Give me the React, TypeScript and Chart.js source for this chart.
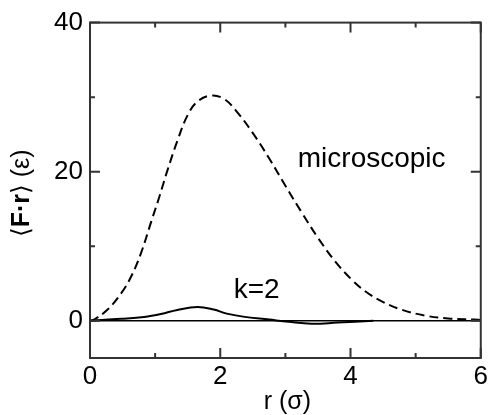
import React, { useEffect, useRef } from "react";
import { Chart, registerables } from "chart.js";

Chart.register(...registerables);

// ---- data ----
const microR = [0, 0.07, 0.27, 0.48, 0.63, 0.78, 0.94, 1.06, 1.19, 1.34, 1.5, 1.65, 1.85, 2.05, 2.24, 2.49, 2.75, 3.0, 3.26, 3.51, 3.77, 4.02, 4.22, 4.48, 4.78, 5.14, 5.5, 5.9, 6.0];
const microV = [0, 0.2, 1.5, 3.7, 5.9, 9.0, 13.3, 16.5, 20.2, 24.1, 27.6, 29.4, 30.2, 29.8, 28.2, 25.3, 21.8, 18.1, 14.4, 11.0, 7.9, 5.5, 4.0, 2.6, 1.5, 0.7, 0.3, 0.15, 0.1];
const k2R = [0, 0.48, 0.83, 1.09, 1.34, 1.65, 1.9, 2.1, 2.35, 2.75, 3.05, 3.4, 3.8, 4.35];
const k2V = [0, 0.25, 0.5, 0.9, 1.45, 1.85, 1.5, 0.95, 0.55, 0.15, -0.15, -0.4, -0.25, 0];

const xMin = 0;
const xMax = 6;
const yMin = -5;
const yMax = 40;
const xMajorTicks = [0, 2, 4, 6];
const xMinorTicks = [1, 3, 5];
const yMajorTicks = [0, 20, 40];
const yMinorTicks = [10, 30];

const microLabel = "microscopic";
const microLabelPos = { x: 3.19, y: 21.7 };
const k2Label = "k=2";
const k2LabelPos = { x: 2.56, y: 4.15 };
const xTitle = "r (σ)";
const yTitleParts = [
  { text: "\u27E8", bold: false },
  { text: "F\u00B7r", bold: true },
  { text: "\u27E9 (\u03B5)", bold: false },
];

const FONT = "'Liberation Sans', Arial, Helvetica, 'DejaVu Sans', sans-serif";

const decorPlugin = {
  id: "decor",
  beforeDatasetsDraw(chart: any) {
    const { ctx, chartArea, scales } = chart;
    const y0 = scales.y.getPixelForValue(0);
    ctx.save();
    ctx.strokeStyle = "#000";
    ctx.lineWidth = 1.5;
    ctx.beginPath();
    ctx.moveTo(chartArea.left, y0);
    ctx.lineTo(chartArea.right, y0);
    ctx.stroke();
    ctx.restore();
  },
  afterDraw(chart: any) {
    const { ctx, chartArea, scales } = chart;
    const { left, right, top, bottom } = chartArea;
    ctx.save();
    // frame
    ctx.strokeStyle = "#333";
    ctx.lineWidth = 2;
    ctx.strokeRect(left, top, right - left, bottom - top);
    // ticks
    ctx.beginPath();
    const major = 10;
    const minor = 5;
    xMajorTicks.concat(xMinorTicks).forEach((v) => {
      const len = xMajorTicks.includes(v) ? major : minor;
      const px = scales.x.getPixelForValue(v);
      ctx.moveTo(px, bottom);
      ctx.lineTo(px, bottom - len);
      ctx.moveTo(px, top);
      ctx.lineTo(px, top + len);
    });
    yMajorTicks.concat(yMinorTicks).forEach((v) => {
      const len = yMajorTicks.includes(v) ? major : minor;
      const py = scales.y.getPixelForValue(v);
      ctx.moveTo(left, py);
      ctx.lineTo(left + len, py);
      ctx.moveTo(right, py);
      ctx.lineTo(right - len, py);
    });
    ctx.stroke();

    // annotations
    ctx.fillStyle = "#000";
    ctx.textBaseline = "middle";
    ctx.textAlign = "left";
    ctx.font = `28px ${FONT}`;
    ctx.fillText(microLabel, scales.x.getPixelForValue(microLabelPos.x), scales.y.getPixelForValue(microLabelPos.y));
    ctx.textAlign = "center";
    ctx.fillText(k2Label, scales.x.getPixelForValue(k2LabelPos.x), scales.y.getPixelForValue(k2LabelPos.y));

    // x title
    ctx.font = `25px ${FONT}`;
    ctx.textAlign = "center";
    ctx.fillText(xTitle, (left + right) / 2 + 2, 402);

    // y title (rotated, mixed weight)
    ctx.translate(22, (top + bottom) / 2 + 3);
    ctx.rotate(-Math.PI / 2);
    ctx.textAlign = "left";
    const fonts = yTitleParts.map((p) => `${p.bold ? "bold " : ""}25px ${FONT}`);
    let total = 0;
    const widths = yTitleParts.map((p, i) => {
      ctx.font = fonts[i];
      const w = ctx.measureText(p.text).width;
      total += w;
      return w;
    });
    let xx = -total / 2;
    yTitleParts.forEach((p, i) => {
      ctx.font = fonts[i];
      ctx.fillText(p.text, xx, 0);
      xx += widths[i];
    });
    ctx.restore();
  },
};

export default function App() {
  const ref = useRef<HTMLCanvasElement | null>(null);
  useEffect(() => {
    if (!ref.current) return;
    const chart = new Chart(ref.current, {
      type: "line",
      data: {
        datasets: [
          {
            label: "microscopic",
            data: microR.map((r, i) => ({ x: r, y: microV[i] })),
            borderColor: "#000",
            borderWidth: 2,
            borderDash: [9, 5],
            pointRadius: 0,
            fill: false,
            tension: 0.4,
          },
          {
            label: "k=2",
            data: k2R.map((r, i) => ({ x: r, y: k2V[i] })),
            borderColor: "#000",
            borderWidth: 2,
            pointRadius: 0,
            fill: false,
            tension: 0.4,
          },
        ],
      },
      options: {
        animation: false,
        responsive: false,
        devicePixelRatio: 1,
        events: [],
        layout: { padding: { top: 22, right: 8, left: 0, bottom: 0 } },
        plugins: { legend: { display: false }, tooltip: { enabled: false } },
        scales: {
          x: {
            type: "linear",
            min: xMin,
            max: xMax,
            grid: { display: false, drawTicks: false },
            border: { display: false },
            ticks: {
              stepSize: 2,
              padding: 3,
              color: "#000",
              font: { family: FONT, size: 26 },
              maxRotation: 0,
            },
            afterBuildTicks: (axis: any) => {
              axis.ticks = xMajorTicks.map((v) => ({ value: v }));
            },
            afterFit: (axis: any) => {
              axis.height = 57;
            },
          },
          y: {
            type: "linear",
            min: yMin,
            max: yMax,
            grid: { display: false, drawTicks: false },
            border: { display: false },
            ticks: {
              padding: 7,
              color: "#000",
              font: { family: FONT, size: 26 },
            },
            afterBuildTicks: (axis: any) => {
              axis.ticks = yMajorTicks.map((v) => ({ value: v }));
            },
            afterFit: (axis: any) => {
              axis.width = 90;
            },
          },
        },
      },
      plugins: [decorPlugin],
    } as any);
    return () => chart.destroy();
  }, []);
  return (
    <div style={{ position: "absolute", left: 0, top: 0, width: 491, height: 415, background: "#fff" }}>
      <canvas ref={ref} width={491} height={415} style={{ width: 491, height: 415 }} />
    </div>
  );
}
